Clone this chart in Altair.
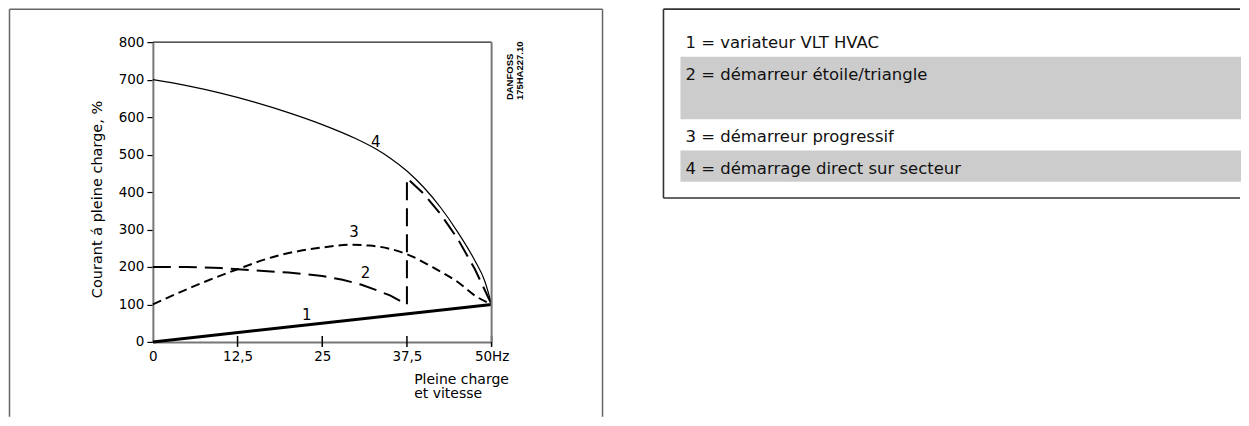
import altair as alt
import pandas as pd

# ---------------- data ----------------
# curve 1 : variateur VLT HVAC
c1_hz = [0, 50]
c1_pct = [0, 100]
# curve 2 : démarreur étoile/triangle
c2_hz = [0, 5, 10, 12.5, 15, 20, 25, 28, 30.7, 33, 35, 37.5, 37.5, 40, 42.5, 45, 47.5, 50]
c2_pct = [200, 200, 197, 194, 191, 185, 176, 166, 153, 138, 124, 100, 437, 395, 340, 275, 195, 100]
# curve 3 : démarreur progressif
c3_hz = [0, 6, 12.5, 18, 25, 29, 32, 37.5, 42, 45, 47.5, 50]
c3_pct = [100, 148, 194, 228, 252, 259, 257, 234, 192, 160, 124, 100]
# curve 4 : démarrage direct sur secteur
c4_hz = [0, 5, 10, 15, 20, 25, 30, 33, 35, 37.5, 40, 42.5, 45, 47.5, 49, 50]
c4_pct = [700, 684, 664, 640, 612, 580, 542, 514, 491, 456, 412, 358, 293, 218, 162, 100]

curve_labels = ["1", "2", "3", "4"]
curve_label_hz = [22.7, 31.4, 29.7, 32.9]
curve_label_pct = [72, 183, 294, 533]

x_tick_values = [0, 12.5, 25, 37.5, 50]
x_cross_ticks = [12.5, 25, 37.5, 50]
y_tick_values = [0, 100, 200, 300, 400, 500, 600, 700, 800]

y_title = "Courant á pleine charge, %"
x_title = ["Pleine charge", "et vitesse"]
stamp_lines = ["DANFOSS", "175HA227.10"]

legend_labels = [
    "1 = variateur VLT HVAC",
    "2 = démarreur étoile/triangle",
    "3 = démarreur progressif",
    "4 = démarrage direct sur secteur",
]
legend_line_counts = [1, 2, 1, 1]

# ---------------- tables ----------------
frames = []
for name, xs_, ys_ in (("1", c1_hz, c1_pct), ("2", c2_hz, c2_pct),
                       ("3", c3_hz, c3_pct), ("4", c4_hz, c4_pct)):
    frames.append(pd.DataFrame({"curve": name, "hz": xs_, "pct": ys_,
                                "order": list(range(len(xs_)))}))
curves = pd.concat(frames, ignore_index=True)
labels_df = pd.DataFrame({"t": curve_labels, "hz": curve_label_hz, "pct": curve_label_pct})
ticks_df = pd.DataFrame({"hz": x_cross_ticks})
one = pd.DataFrame({"k": [0]})

leg = pd.DataFrame({"label": legend_labels, "lines": legend_line_counts})
leg["end"] = leg["lines"].cumsum()
leg["start"] = leg["end"] - leg["lines"]
leg["row"] = list(range(len(leg)))

# ---------------- styling ----------------
W, H = 339, 300
LW = 750
FONT = "DejaVu Sans"
GRAY = "#777777"
TOP = -33

xsc = alt.Scale(domain=[0, 50], nice=False, zero=False)
ysc = alt.Scale(domain=[0, 800], nice=False, zero=False)

x_axis = alt.Axis(
    values=x_tick_values,
    labelExpr="datum.value == 50 ? '\u00a0\u00a050Hz' : replace(format(datum.value, '~g'), '.', ',')",
    ticks=False, grid=False, labelFlush=False, labelOverlap=False,
    domainColor=GRAY, domainWidth=2, labelPadding=8,
    labelFont=FONT, labelFontSize=13.5, labelColor="black",
    title=x_title, titleFont=FONT, titleFontSize=14, titleFontWeight="normal",
    titleColor="black", titleX=261, titleY=41.5, titleAlign="left",
    titleBaseline="alphabetic", titleLineHeight=14,
)
y_axis = alt.Axis(
    values=y_tick_values, grid=False, labelFlush=False, labelOverlap=False,
    domainColor=GRAY, domainWidth=2, tickColor="black", tickSize=6, tickWidth=1.2,
    labelPadding=3, labelFont=FONT, labelFontSize=13.5, labelColor="black",
    title=y_title, titleFont=FONT, titleFontSize=14.5, titleFontWeight="normal",
    titleColor="black", titleAngle=270, titleX=-55, titleY=157,
    titleAlign="center", titleBaseline="middle",
)

X = alt.X("hz:Q", scale=xsc, axis=x_axis)
Y = alt.Y("pct:Q", scale=ysc, axis=y_axis)

base = alt.Chart(curves)


def curve(name, width, interp, dash=None):
    kw = dict(color="black", strokeWidth=width, interpolate=interp)
    if dash:
        kw["strokeDash"] = dash
    return base.transform_filter(alt.datum.curve == name).mark_line(**kw).encode(
        x=X, y=Y, order="order:Q")


c4 = curve("4", 1.2, "monotone")
c3 = curve("3", 2, "monotone", [9, 5])
c2 = curve("2", 2, "linear", [18, 8])
c1 = curve("1", 3, "linear")

xticks = alt.Chart(ticks_df).mark_rule(color="black", strokeWidth=1.5).encode(
    x=X, y=alt.value(H - 6), y2=alt.value(H + 5))

top_border = alt.Chart(one).mark_rule(color="#222222", strokeWidth=1.3).encode(
    x=alt.value(0), x2=alt.value(W), y=alt.value(0))
right_border = alt.Chart(one).mark_rule(color=GRAY, strokeWidth=2).encode(
    x=alt.value(W), y=alt.value(0), y2=alt.value(H))

FR = dict(color="#666666", strokeWidth=1.5)
frame_left = alt.Chart(one).mark_rule(**FR).encode(
    x=alt.value(-143.5), y=alt.value(TOP), y2=alt.value(375))
frame_right = alt.Chart(one).mark_rule(**FR).encode(
    x=alt.value(450), y=alt.value(TOP), y2=alt.value(375))
frame_top = alt.Chart(one).mark_rule(**FR).encode(
    x=alt.value(-143.5), x2=alt.value(450), y=alt.value(TOP))

curve_text = alt.Chart(labels_df).mark_text(
    font=FONT, fontSize=15, color="black", baseline="middle", align="center").encode(
    x=X, y=Y, text="t:N")

stamp = alt.Chart(one).mark_text(
    text=stamp_lines, angle=270, align="left", baseline="middle", lineHeight=10,
    font="Liberation Sans", fontSize=9.5, fontWeight="bold", color="black").encode(
    x=alt.value(357), y=alt.value(58))

main = alt.layer(c4, c3, c2, c1, xticks, curve_text, frame_left, frame_right, frame_top,
                 top_border, right_border, stamp).properties(width=W, height=H)

# ---------------- legend table (origin at the plot's right edge) ----------------
leg_scale = alt.Scale(domain=[0, int(leg["end"].max())], range=[-16.8, 139.7],
                      nice=False, zero=False)
LB = dict(color="#333333", strokeWidth=1.6)
leg_left = alt.Chart(one).mark_rule(**LB).encode(
    x=alt.value(172), y=alt.value(TOP), y2=alt.value(156))
leg_top = alt.Chart(one).mark_rule(**LB).encode(
    x=alt.value(172), x2=alt.value(749), y=alt.value(TOP))
leg_bottom = alt.Chart(one).mark_rule(**LB).encode(
    x=alt.value(172), x2=alt.value(749), y=alt.value(156))
shade = alt.Chart(leg).transform_filter("datum.row % 2 == 1").mark_rect(color="#cccccc").encode(
    x=alt.value(189), x2=alt.value(750),
    y=alt.Y("start:Q", scale=leg_scale, axis=None), y2="end:Q")
leg_text = alt.Chart(leg).transform_calculate(mid="datum.start + 0.5").mark_text(
    align="left", baseline="middle", dy=2.5, font=FONT, fontSize=16.5, color="#111111").encode(
    x=alt.value(194), y=alt.Y("mid:Q", scale=leg_scale, axis=None), text="label:N")

legend = alt.layer(shade, leg_left, leg_top, leg_bottom, leg_text).properties(width=LW, height=H)

chart = alt.hconcat(main, legend, spacing=0, bounds="flush").properties(
    padding={"left": 0, "top": 0, "right": 0, "bottom": 0},
    background="white",
).configure_view(stroke=None)

chart.save("out.html", embed_options={"renderer": "svg", "actions": False})
